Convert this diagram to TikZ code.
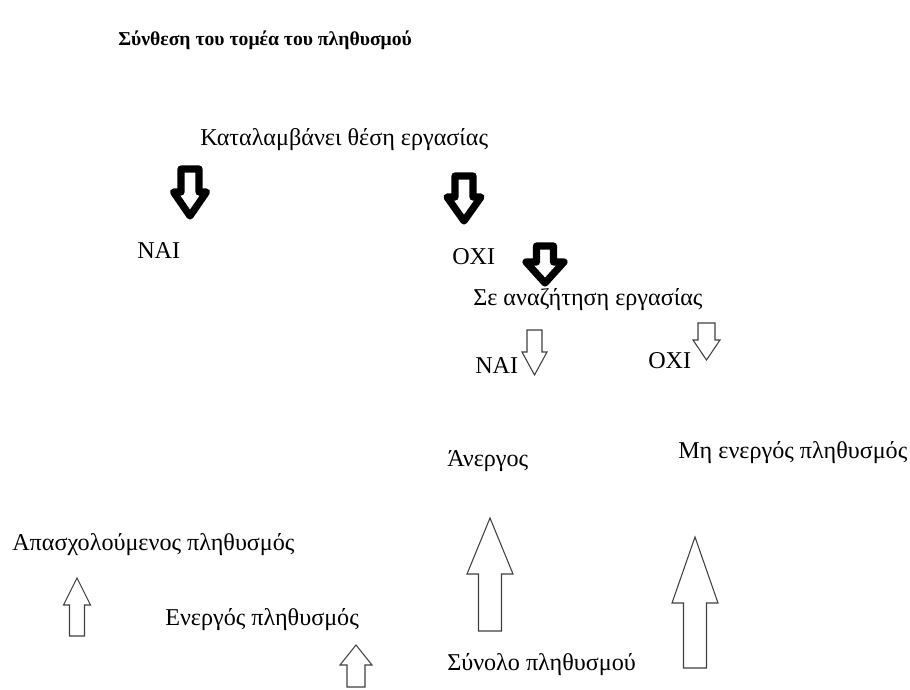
\documentclass[tikz,border=0pt]{standalone}
\usepackage{fontspec}
\setmainfont{Liberation Serif}
\usepackage{tikz}
\usepackage{xcolor}

\tikzset{
  lbl/.style={anchor=west, inner sep=0pt, font=\fontsize{18.1}{21}\selectfont},
  heading/.style={anchor=west, inner sep=0pt, font=\fontsize{14.75}{18}\selectfont\bfseries},
  thickarrow/.style={draw=black, line width=5.4pt, fill=white, line join=round},
  thinarrow/.style={draw=black!75, line width=0.8pt, fill=white}
}
% block arrow: [style]{x}{tail y}{tip y}{head base y}{shaft half}{head half}
\newcommand{\blockarrow}[7][]{%
  \draw[#1] ({#2-#6},#3) -- ({#2+#6},#3) -- ({#2+#6},#5) -- ({#2+#7},#5)
    -- (#2,#4) -- ({#2-#7},#5) -- ({#2-#6},#5) -- cycle;}

\begin{document}
\begin{tikzpicture}[x=0.75pt, y=-0.75pt]
  \useasboundingbox (0,0) rectangle (910,689);

  \node[heading] (title) at (118,40) {Σύνθεση του τομέα του πληθυσμού};
  \node[lbl] (job) at (200,140) {Καταλαμβάνει θέση εργασίας};
  \node[lbl] (yesjob) at (137,251) {ΝΑΙ};
  \node[lbl] (nojob) at (452,257) {ΟΧΙ};
  \node[lbl] (seek) at (473,300) {Σε αναζήτηση εργασίας};
  \node[lbl] (yesseek) at (475,366) {ΝΑΙ};
  \node[lbl] (noseek) at (648,361) {ΟΧΙ};
  \node[lbl] (unemp) at (447,461) {Άνεργος};
  \node[lbl] (inactive) at (678,453) {Μη ενεργός πληθυσμός};
  \node[lbl] (employed) at (12,545) {Απασχολούμενος πληθυσμός};
  \node[lbl] (active) at (165,620) {Ενεργός πληθυσμός};
  \node[lbl] (total) at (447,665) {Σύνολο πληθυσμού};

  % thick arrows
  \blockarrow[thickarrow]{190}{169}{216}{192}{9}{16.5} % to yes
  \blockarrow[thickarrow]{464}{176}{221}{197}{9}{17} % to no
  \blockarrow[thickarrow]{545}{246}{283}{262}{8.5}{19} % to seeking

  % thin arrows
  \blockarrow[thinarrow]{534.5}{330}{375}{352}{7.5}{12.5} % seeking yes
  \blockarrow[thinarrow]{706.5}{323}{360}{340}{8.5}{13.5} % seeking no
  \blockarrow[thinarrow]{77}{636}{578}{605}{7.5}{13.5} % employed
  \blockarrow[thinarrow]{356}{687}{645}{665}{9}{16} % active
  \blockarrow[thinarrow]{490}{631}{518}{574}{11.5}{23} % unemployed
  \blockarrow[thinarrow]{695}{668}{537}{603}{11.5}{23} % inactive
\end{tikzpicture}
\end{document}
